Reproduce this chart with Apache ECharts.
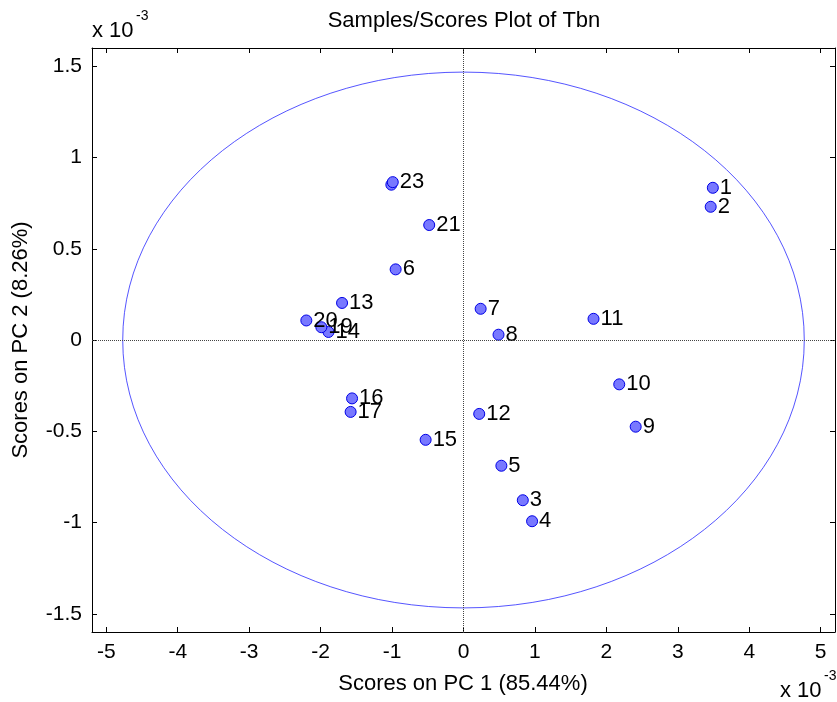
<!DOCTYPE html>
<html>
<head>
<meta charset="utf-8">
<script src="https://cdn.jsdelivr.net/npm/echarts@6/dist/echarts.min.js"></script>
<style>
html, body { margin: 0; padding: 0; background: #fff; }
#main { width: 837px; height: 702px; }
</style>
</head>
<body>
<div id="main"></div>
<script>
// sample names and scores (values are x 10^-3)
var sampleNames = ['1','2','3','4','5','6','7','8','9','10','11','12','13','14','15','16','17','19','20','21','22','23'];
var pc1Scores = [3.49, 3.46, 0.83, 0.96, 0.53, -0.95, 0.24, 0.49, 2.41, 2.18, 1.82, 0.22, -1.70, -1.89, -0.53, -1.56, -1.58, -1.99, -2.20, -0.48, -1.01, -0.99];
var pc2Scores = [0.834, 0.730, -0.878, -0.993, -0.689, 0.387, 0.171, 0.029, -0.475, -0.243, 0.116, -0.405, 0.203, 0.044, -0.547, -0.320, -0.394, 0.070, 0.107, 0.630, 0.851, 0.865];
// labels hidden under another label in the plot
var hiddenLabels = ['22'];

var xTicks = [-5, -4, -3, -2, -1, 0, 1, 2, 3, 4, 5];
var yTicks = [-1.5, -1, -0.5, 0, 0.5, 1, 1.5];

// confidence ellipse: center x, center y, half width, half height
var ellipseData = [[0, 0, 4.77, 1.468]];

var FONT = 'Liberation Sans, Arial, sans-serif';

var points = [];
for (var i = 0; i < sampleNames.length; i++) {
	var p = { value: [pc1Scores[i], pc2Scores[i]], name: sampleNames[i] };
	if (hiddenLabels.indexOf(sampleNames[i]) >= 0) {
		p.label = { show: false };
	}
	points.push(p);
}

function makeX(pos, showLabel) {
	return {
		type: 'value',
		position: pos,
		min: -5.2,
		max: 5.2,
		axisLine: { show: true, onZero: false, lineStyle: { color: '#000', width: 1 } },
		axisTick: { show: true, inside: true, length: 5, customValues: xTicks, lineStyle: { color: '#000' } },
		axisLabel: { show: showLabel, customValues: xTicks, color: '#000', fontFamily: FONT, fontSize: 21, margin: 10 },
		splitLine: { show: false }
	};
}

function makeY(pos, showLabel) {
	return {
		type: 'value',
		position: pos,
		min: -1.6,
		max: 1.6,
		axisLine: { show: true, onZero: false, lineStyle: { color: '#000', width: 1 } },
		axisTick: { show: true, inside: true, length: 5, customValues: yTicks, lineStyle: { color: '#000' } },
		axisLabel: { show: showLabel, customValues: yTicks, color: '#000', fontFamily: FONT, fontSize: 21, margin: 10 },
		splitLine: { show: false }
	};
}

var myChart = echarts.init(document.getElementById('main'));

var option = {
	backgroundColor: '#fff',
	animation: false,
	grid: { left: 92, right: 2, top: 48, bottom: 70 },
	xAxis: [ makeX('bottom', true), makeX('top', false) ],
	yAxis: [ makeY('left', true), makeY('right', false) ],
	graphic: [
		{ type: 'text', style: { text: 'Samples/Scores Plot of Tbn', x: 464, y: 21, align: 'center', verticalAlign: 'middle', font: '22px ' + FONT, fill: '#000' } },
		{ type: 'text', style: { text: 'Scores on PC 1 (85.44%)', x: 463, y: 684, align: 'center', verticalAlign: 'middle', font: '22px ' + FONT, fill: '#000' } },
		{ type: 'text', x: 21, y: 340, rotation: Math.PI / 2, style: { text: 'Scores on PC 2 (8.26%)', x: 0, y: 0, align: 'center', verticalAlign: 'middle', font: '22px ' + FONT, fill: '#000' } },
		// x 10^-3 top left
		{ type: 'text', style: { text: 'x 10', x: 92, y: 31, align: 'left', verticalAlign: 'middle', font: '22px ' + FONT, fill: '#000' } },
		{ type: 'text', style: { text: '-3', x: 136, y: 16, align: 'left', verticalAlign: 'middle', font: '14px ' + FONT, fill: '#000' } },
		// x 10^-3 bottom right
		{ type: 'text', style: { text: 'x 10', x: 780, y: 691, align: 'left', verticalAlign: 'middle', font: '22px ' + FONT, fill: '#000' } },
		{ type: 'text', style: { text: '-3', x: 824, y: 676, align: 'left', verticalAlign: 'middle', font: '14px ' + FONT, fill: '#000' } }
	],
	series: [
		{
			type: 'custom',
			coordinateSystem: 'cartesian2d',
			silent: true,
			clip: false,
			z: 1,
			data: ellipseData,
			renderItem: function (params, api) {
				var c = api.coord([api.value(0), api.value(1)]);
				var s = api.size([api.value(2), api.value(3)]);
				return {
					type: 'ellipse',
					shape: { cx: c[0], cy: c[1], rx: s[0], ry: s[1] },
					style: { fill: 'none', stroke: '#2a2aff', lineWidth: 0.8 }
				};
			}
		},
		{
			type: 'scatter',
			z: 3,
			symbol: 'circle',
			symbolSize: 11,
			itemStyle: { color: '#7878ff', borderColor: '#0000e6', borderWidth: 1, opacity: 1 },
			label: {
				show: true,
				position: 'right',
				distance: 1,
				offset: [0, 2],
				formatter: function (p) { return p.name; },
				color: '#000',
				fontFamily: FONT,
				fontSize: 22
			},
			labelLayout: { hideOverlap: false },
			data: points,
			markLine: {
				silent: true,
				symbol: 'none',
				label: { show: false },
				lineStyle: { color: '#444', type: 'dotted', width: 1 },
				data: [ { xAxis: 0 }, { yAxis: 0 } ]
			}
		}
	]
};

myChart.setOption(option);
</script>
</body>
</html>
